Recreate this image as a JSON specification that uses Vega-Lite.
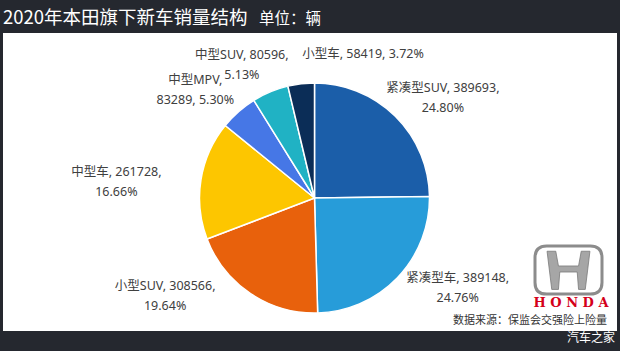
{
  "$schema": "https://vega.github.io/schema/vega-lite/v6.json",
  "width": 614,
  "height": 298,
  "autosize": "none",
  "padding": {"left": 3, "right": 3, "top": 33, "bottom": 20},
  "background": "#25282f",
  "view": {"fill": "#ffffff", "stroke": null},
  "config": {
    "view": {"fill": "#ffffff", "stroke": null},
    "font": "Noto Sans, Noto Sans CJK SC, sans-serif"
  },
  "data": {
    "values": [
      {"类别": "紧凑型SUV", "销量": 389693, "占比": "24.80%"},
      {"类别": "紧凑型车", "销量": 389148, "占比": "24.76%"},
      {"类别": "小型SUV", "销量": 308566, "占比": "19.64%"},
      {"类别": "中型车", "销量": 261728, "占比": "16.66%"},
      {"类别": "中型MPV", "销量": 83289, "占比": "5.30%"},
      {"类别": "中型SUV", "销量": 80596, "占比": "5.13%"},
      {"类别": "小型车", "销量": 58419, "占比": "3.72%"}
    ]
  },
  "layer": [
    {
      "mark": {"type": "arc", "radius": 115, "stroke": "#ffffff", "strokeWidth": 1.5, "x": {"expr": "width/2+4.5"}, "y": {"expr": "height/2+16"}},
      "encoding": {
        "theta": {"field": "销量", "type": "quantitative", "stack": true},
        "order": {"field": "销量", "type": "quantitative", "sort": "descending"},
        "color": {
          "field": "类别",
          "type": "nominal",
          "legend": null,
          "scale": {
            "domain": ["紧凑型SUV", "紧凑型车", "小型SUV", "中型车", "中型MPV", "中型SUV", "小型车"],
            "range": ["#1b5ea9", "#279cd9", "#e8610c", "#fdc600", "#4677e6", "#20b2c4", "#0b2d57"]
          }
        }
      }
    },
    {
      "mark": {
        "type": "text",
        "radius": 150,
        "x": {"expr": "width/2+4.5"},
        "y": {"expr": "height/2+16"},
        "fontSize": 12.5,
        "color": "#404040",
        "align": "center",
        "baseline": "middle",
        "lineHeight": 20,
        "text": {"expr": "datum['类别'] == '小型车' ? datum['类别'] + ', ' + datum['销量'] + ', ' + datum['占比'] : (datum['类别'] == '中型MPV' ? [datum['类别'] + ',', datum['销量'] + ', ' + datum['占比']] : [datum['类别'] + ', ' + datum['销量'] + ',', datum['占比']])"},
        "dx": {"expr": "[23, 35, -66, -50, -20, -15, 66][indexof(['紧凑型SUV','紧凑型车','小型SUV','中型车','中型MPV','中型SUV','小型车'], datum['类别'])]"},
        "dy": {"expr": "[-3, -24, -37, -2, -5, -5, 5][indexof(['紧凑型SUV','紧凑型车','小型SUV','中型车','中型MPV','中型SUV','小型车'], datum['类别'])]"}
      },
      "encoding": {
        "theta": {"field": "销量", "type": "quantitative", "stack": true},
        "order": {"field": "销量", "type": "quantitative", "sort": "descending"},
        "detail": {"field": "类别", "type": "nominal"}
      }
    },
    {
      "data": {"values": [{"说明": "2020年本田旗下新车销量结构"}]},
      "mark": {"type": "text", "x": 0, "y": -15, "align": "left", "baseline": "middle", "fontSize": 18.5, "color": "#ffffff", "font": "Noto Sans CJK SC"},
      "encoding": {"text": {"field": "说明"}}
    },
    {
      "data": {"values": [{"说明": "单位：辆"}]},
      "mark": {"type": "text", "x": 256, "y": -14, "align": "left", "baseline": "middle", "fontSize": 15.5, "color": "#ffffff", "font": "Noto Sans CJK SC"},
      "encoding": {"text": {"field": "说明"}}
    },
    {
      "data": {"values": [{"说明": "数据来源：保监会交强险上险量"}]},
      "mark": {"type": "text", "x": {"expr": "width-10"}, "y": {"expr": "height-10"}, "align": "right", "baseline": "middle", "fontSize": 11, "color": "#333333", "font": "Noto Sans CJK SC"},
      "encoding": {"text": {"field": "说明"}}
    },
    {
      "data": {"values": [{"说明": "汽车之家"}]},
      "mark": {"type": "text", "x": {"expr": "width-2"}, "y": {"expr": "height+7"}, "align": "right", "baseline": "middle", "fontSize": 12, "color": "#ffffff", "font": "Noto Sans CJK SC"},
      "encoding": {"text": {"field": "说明"}}
    },
    {
      "data": {"values": [{"说明": "H O N D A"}]},
      "mark": {"type": "text", "x": {"expr": "width-46"}, "y": {"expr": "height-28"}, "align": "center", "baseline": "middle", "fontSize": 13, "fontWeight": "bold", "color": "#d4001a", "font": "DejaVu Serif"},
      "encoding": {"text": {"field": "说明"}}
    },
    {
      "data": {"values": [{"说明": "logo"}]},
      "mark": {"type": "point", "x": {"expr": "width-48.5"}, "y": {"expr": "height-61"}, "size": 4489, "filled": false, "stroke": "#8c8c8c", "strokeWidth": 3, "opacity": 1,
        "shape": "M -0.65,-0.72 L 0.65,-0.72 Q 1,-0.72 1,-0.37 L 1,0.37 Q 1,0.72 0.65,0.72 L -0.65,0.72 Q -1,0.72 -1,0.37 L -1,-0.37 Q -1,-0.72 -0.65,-0.72 Z"},
      "encoding": {}
    },
    {
      "data": {"values": [{"说明": "logo"}]},
      "mark": {"type": "point", "x": {"expr": "width-48.5"}, "y": {"expr": "height-61"}, "size": 4489, "filled": true, "fill": "#a6a6a6", "stroke": "#7a7a7a", "strokeWidth": 0.8, "opacity": 1,
        "shape": "M -0.64,-0.56 L -0.38,-0.56 L -0.3,-0.12 L 0.3,-0.12 L 0.38,-0.56 L 0.64,-0.56 L 0.5,0.58 L 0.3,0.58 L 0.26,0.06 L -0.26,0.06 L -0.3,0.58 L -0.5,0.58 Z"},
      "encoding": {}
    }
  ]
}
